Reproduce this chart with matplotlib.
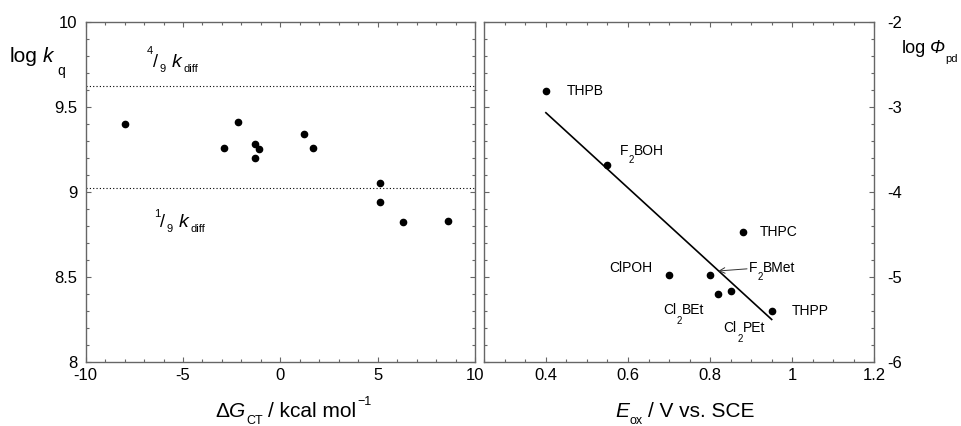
import numpy as np
import matplotlib
matplotlib.use("Agg")
import matplotlib.pyplot as plt
from matplotlib.ticker import MultipleLocator, FuncFormatter

plt.rcParams['font.family'] = ['Liberation Sans', 'DejaVu Sans']
plt.rcParams['axes.unicode_minus'] = False

# left panel: log kq vs dG_CT
dg_ct = [-8.0, -2.9, -2.2, -1.3, -1.1, -1.3, 1.2, 1.7, 5.1, 5.1, 6.3, 8.6]
log_kq = [9.40, 9.26, 9.41, 9.28, 9.25, 9.20, 9.34, 9.26, 9.05, 8.94, 8.82, 8.83]
diff_limits = [9.625, 9.023]   # 4/9 kdiff and 1/9 kdiff

# right panel: log phi_pd vs E_ox
names = ['THPB', 'F2BOH', 'THPC', 'ClPOH', 'F2BMet', 'Cl2BEt', 'Cl2PEt', 'THPP']
e_ox = [0.40, 0.55, 0.88, 0.70, 0.80, 0.82, 0.85, 0.95]
log_phi = [-2.81, -3.68, -4.47, -4.98, -4.98, -5.20, -5.17, -5.40]
fit_x = [0.40, 0.95]
fit_y = [-3.07, -5.50]

W, H = 961, 426
fig = plt.figure(figsize=(W / 100, H / 100), dpi=100)
ax1 = fig.add_axes([85.7 / W, 1 - 362 / H, 389.3 / W, 340.3 / H])
ax2 = fig.add_axes([484.3 / W, 1 - 362 / H, 390 / W, 340.3 / H])

spine_c = '#666666'
fmt = FuncFormatter(lambda v, p: f"{v:g}")
for ax in (ax1, ax2):
    for s in ax.spines.values():
        s.set_color(spine_c)
        s.set_linewidth(1.0)
    ax.tick_params(which='both', direction='in', top=True, bottom=True,
                   left=True, right=True, color=spine_c, labelsize=12)
    ax.tick_params(which='major', length=3.3, width=0.8)
    ax.tick_params(which='minor', length=2.0, width=0.8)
    ax.xaxis.set_major_formatter(fmt)
    ax.yaxis.set_major_formatter(fmt)

ax1.set_xlim(-10, 10)
ax1.set_ylim(8, 10)
ax1.xaxis.set_major_locator(MultipleLocator(5))
ax1.xaxis.set_minor_locator(MultipleLocator(1))
ax1.yaxis.set_major_locator(MultipleLocator(0.5))
ax1.yaxis.set_minor_locator(MultipleLocator(0.1))
ax1.tick_params(axis='y', pad=6)
ax1.tick_params(axis='x', pad=4)

ax2.set_xlim(0.25, 1.2)
ax2.set_ylim(-6, -2)
ax2.xaxis.set_major_locator(MultipleLocator(0.2))
ax2.xaxis.set_minor_locator(MultipleLocator(0.05))
ax2.yaxis.set_major_locator(MultipleLocator(1))
ax2.yaxis.set_minor_locator(MultipleLocator(0.2))
ax2.tick_params(axis='y', labelleft=False, labelright=True, pad=9)
ax2.tick_params(axis='x', pad=4)

ax1.plot(dg_ct, log_kq, 'o', color='black', ms=4.5)
for y in diff_limits:
    ax1.axhline(y, color='black', lw=0.8, ls=(0, (1, 2)))

ax2.plot(fit_x, fit_y, '-', color='black', lw=1.2)
ax2.plot(e_ox, log_phi, 'o', color='black', ms=4.5)

renderer = fig.canvas.get_renderer()


def chain(x, y, parts, end=None):
    # lay text pieces one after another; x, y image pixels (y down, baseline)
    # each part: (text, size, drop in px, italic, gap before in px)
    texts = []
    for s, size, drop, italic, gap in parts:
        x += gap
        t = fig.text(x / W, 1 - (y + drop) / H, s, fontsize=size, ha='left',
                     va='baseline', style='italic' if italic else 'normal')
        x += t.get_window_extent(renderer).width
        texts.append(t)
    if end is not None:
        shift = (end - x) / W
        for t in texts:
            px, py = t.get_position()
            t.set_position((px + shift, py))


def point_px(i):
    px, py = ax2.transData.transform((e_ox[i], log_phi[i]))
    return px, H - py


def tag(i, dx, dy, parts, right=False):
    px, py = point_px(i)
    if right:
        chain(0, py + dy, parts, end=px + dx)
    else:
        chain(px + dx, py + dy, parts)


# axis labels
chain(10, 62, [('log', 15, 0, False, 0), ('k', 15, 0, True, 5),
               ('q', 10, 13, False, 4)])
chain(0, 53, [('log', 13, 0, False, 0), ('\u03a6', 13, 0, True, 4),
              ('pd', 8, 9, False, 0)], end=958)
chain(215, 417, [('\u0394', 15, 0, False, 0), ('G', 15, 0, True, 0),
                 ('CT', 9, 7, False, 1), ('/ kcal mol', 15, 0, False, 5),
                 ('\u22121', 9, -12, False, 1)])
chain(615, 417, [('E', 15, 0, True, 0), ('ox', 9, 7, False, 1),
                 ('/ V vs. SCE', 15, 0, False, 5)])

# fraction labels for the diffusion limits
chain(147, 67, [('4', 8, -13, False, 0), ('/', 13, 0, False, 0),
                ('9', 8, 5, False, 1), ('k', 14, 0, True, 6),
                ('diff', 8, 5, False, 2)])
chain(154, 227, [('1', 8, -10, False, 0), ('/', 13, 0, False, 0),
                 ('9', 8, 5, False, 1), ('k', 14, 0, True, 6),
                 ('diff', 8, 5, False, 2)])

# compound labels, pixel offsets from their points
tag(0, 21, 4, [('THPB', 10, 0, False, 0)])
tag(1, 12.5, -10, [('F', 10, 0, False, 0), ('2', 7, 8, False, 0),
                   ('BOH', 10, 0, False, 0)])
tag(2, 16.5, 4, [('THPC', 10, 0, False, 0)])
tag(3, -17, -3, [('ClPOH', 10, 0, False, 0)], right=True)
tag(4, 39, -3, [('F', 10, 0, False, 0), ('2', 7, 8, False, 0),
                ('BMet', 10, 0, False, 0)])
tag(5, -55.5, 20.5, [('Cl', 10, 0, False, 0), ('2', 7, 10, False, 1),
                     ('BEt', 10, 0, False, 0)])
tag(6, -7.5, 41, [('Cl', 10, 0, False, 0), ('2', 7, 10, False, 1),
                  ('PEt', 10, 0, False, 0)])
tag(7, 20.5, 4, [('THPP', 10, 0, False, 0)])

ax2.annotate('', xy=(0.82, -4.93), xytext=(0.89, -4.905),
             arrowprops=dict(arrowstyle='->', color='#333333', lw=0.7,
                             shrinkA=0, shrinkB=0))

fig.savefig('out.png', dpi=100)
